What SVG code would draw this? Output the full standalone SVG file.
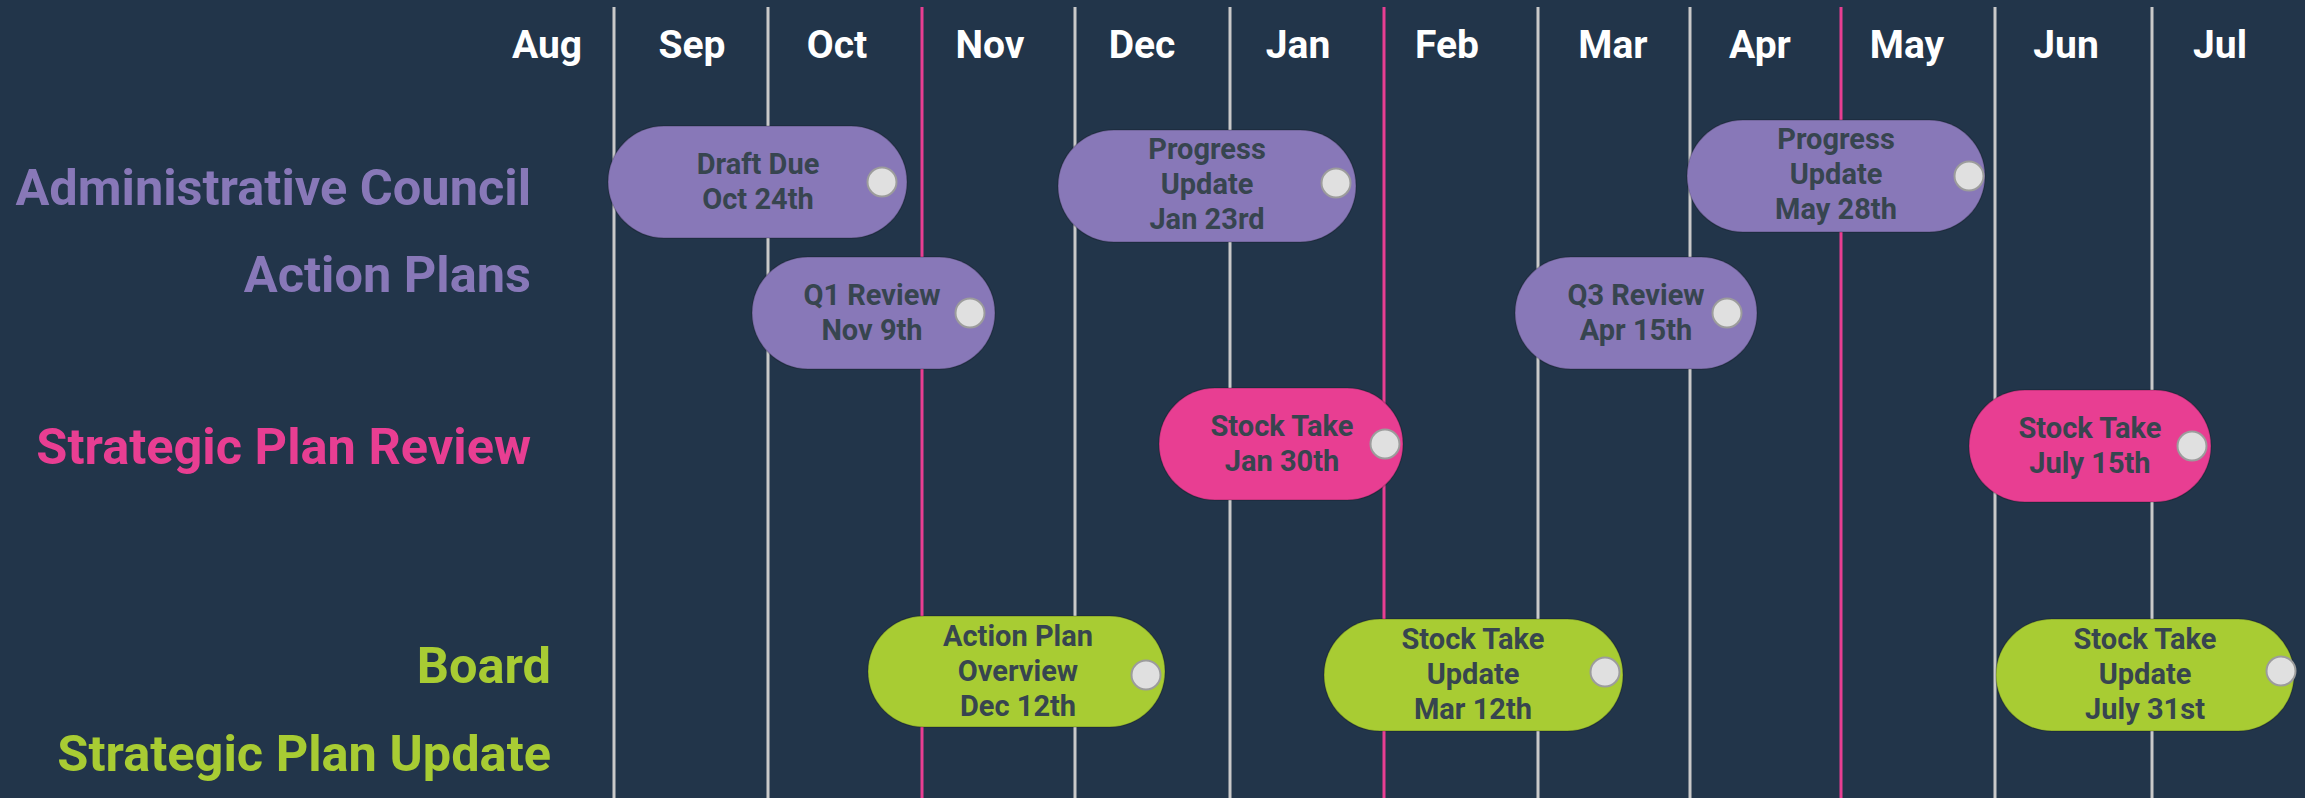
<svg xmlns="http://www.w3.org/2000/svg" width="2305" height="798" viewBox="0 0 2305 798">
  <style>
    .bg { fill: #22354a; }
    .grid { stroke: #c9c9c9; stroke-width: 3; }
    .grid.accent { stroke: #e83e92; }
    .month { font-family: Roboto, "Liberation Sans", sans-serif; font-weight: 700; font-size: 39px; fill: #ffffff; text-anchor: middle; }
    .row { font-family: Roboto, "Liberation Sans", sans-serif; font-weight: 700; font-size: 50.5px; text-anchor: end; }
    .row.purple { fill: #8878b8; }
    .row.pink { fill: #e83e92; }
    .row.green { fill: #a8cc33; }
    .pill { stroke: rgba(0,0,0,0.18); stroke-width: 1.5; }
    .pill.purple { fill: #8878b8; }
    .pill.pink { fill: #e83e92; }
    .pill.green { fill: #a8cc33; }
    .knob { fill: #e0e0e0; stroke: #9c9c9c; stroke-width: 2; }
    .label { font-family: Roboto, "Liberation Sans", sans-serif; font-weight: 700; font-size: 29px; fill: #37454f; text-anchor: middle; }
  </style>

  <rect class="bg" x="0" y="0" width="2305" height="798"/>

  <!-- month dividers -->
  <g id="gridlines">
    <line class="grid" x1="614" y1="7" x2="614" y2="798"/>
    <line class="grid" x1="768" y1="7" x2="768" y2="798"/>
    <line class="grid accent" x1="922" y1="7" x2="922" y2="798"/>
    <line class="grid" x1="1075" y1="7" x2="1075" y2="798"/>
    <line class="grid" x1="1230" y1="7" x2="1230" y2="798"/>
    <line class="grid accent" x1="1384" y1="7" x2="1384" y2="798"/>
    <line class="grid" x1="1538" y1="7" x2="1538" y2="798"/>
    <line class="grid" x1="1690" y1="7" x2="1690" y2="798"/>
    <line class="grid accent" x1="1841" y1="7" x2="1841" y2="798"/>
    <line class="grid" x1="1995" y1="7" x2="1995" y2="798"/>
    <line class="grid" x1="2152" y1="7" x2="2152" y2="798"/>
  </g>

  <!-- month headings -->
  <g id="months">
    <text class="month" x="547" y="58">Aug</text>
    <text class="month" x="692" y="58">Sep</text>
    <text class="month" x="837" y="58">Oct</text>
    <text class="month" x="990" y="58">Nov</text>
    <text class="month" x="1142" y="58">Dec</text>
    <text class="month" x="1298" y="58">Jan</text>
    <text class="month" x="1447" y="58">Feb</text>
    <text class="month" x="1613" y="58">Mar</text>
    <text class="month" x="1760" y="58">Apr</text>
    <text class="month" x="1907" y="58">May</text>
    <text class="month" x="2066" y="58">Jun</text>
    <text class="month" x="2220" y="58">Jul</text>
  </g>

  <!-- swimlane titles -->
  <g id="lanes">
    <text class="row purple" x="531" y="205">Administrative Council</text>
    <text class="row purple" x="531" y="292">Action Plans</text>
    <text class="row pink" x="531" y="464">Strategic Plan Review</text>
    <text class="row green" x="551" y="683">Board</text>
    <text class="row green" x="551" y="771">Strategic Plan Update</text>
  </g>

  <!-- milestones -->
  <g id="draft-due">
    <rect class="pill purple" x="608" y="126" width="299" height="112" rx="56"/>
    <circle class="knob" cx="882" cy="182" r="14.5"/>
    <text class="label" x="758" y="174">Draft Due</text>
    <text class="label" x="758" y="209">Oct 24th</text>
  </g>

  <g id="progress-jan">
    <rect class="pill purple" x="1058" y="130" width="298" height="112" rx="56"/>
    <circle class="knob" cx="1336" cy="183" r="14.5"/>
    <text class="label" x="1207" y="159">Progress</text>
    <text class="label" x="1207" y="194">Update</text>
    <text class="label" x="1207" y="229">Jan 23rd</text>
  </g>

  <g id="progress-may">
    <rect class="pill purple" x="1687" y="120" width="298" height="112" rx="56"/>
    <circle class="knob" cx="1969" cy="176" r="14.5"/>
    <text class="label" x="1836" y="149">Progress</text>
    <text class="label" x="1836" y="184">Update</text>
    <text class="label" x="1836" y="219">May 28th</text>
  </g>

  <g id="q1-review">
    <rect class="pill purple" x="752" y="257" width="243" height="112" rx="56"/>
    <circle class="knob" cx="970" cy="313" r="14.5"/>
    <text class="label" x="872" y="305">Q1 Review</text>
    <text class="label" x="872" y="340">Nov 9th</text>
  </g>

  <g id="q3-review">
    <rect class="pill purple" x="1515" y="257" width="242" height="112" rx="56"/>
    <circle class="knob" cx="1727" cy="313" r="14.5"/>
    <text class="label" x="1636" y="305">Q3 Review</text>
    <text class="label" x="1636" y="340">Apr 15th</text>
  </g>

  <g id="stock-take-jan">
    <rect class="pill pink" x="1159" y="388" width="244" height="112" rx="56"/>
    <circle class="knob" cx="1385" cy="444" r="14.5"/>
    <text class="label" x="1282" y="436">Stock Take</text>
    <text class="label" x="1282" y="471">Jan 30th</text>
  </g>

  <g id="stock-take-july">
    <rect class="pill pink" x="1969" y="390" width="242" height="112" rx="56"/>
    <circle class="knob" cx="2192" cy="446" r="14.5"/>
    <text class="label" x="2090" y="438">Stock Take</text>
    <text class="label" x="2090" y="473">July 15th</text>
  </g>

  <g id="action-plan-overview">
    <rect class="pill green" x="868" y="616" width="297" height="111" rx="55.5"/>
    <circle class="knob" cx="1146" cy="675" r="14.5"/>
    <text class="label" x="1018" y="646">Action Plan</text>
    <text class="label" x="1018" y="681">Overview</text>
    <text class="label" x="1018" y="716">Dec 12th</text>
  </g>

  <g id="stock-take-update-mar">
    <rect class="pill green" x="1324" y="619" width="299" height="112" rx="56"/>
    <circle class="knob" cx="1605" cy="672" r="14.5"/>
    <text class="label" x="1473" y="649">Stock Take</text>
    <text class="label" x="1473" y="684">Update</text>
    <text class="label" x="1473" y="719">Mar 12th</text>
  </g>

  <g id="stock-take-update-july">
    <rect class="pill green" x="1996" y="619" width="298" height="112" rx="56"/>
    <circle class="knob" cx="2281" cy="671" r="14.5"/>
    <text class="label" x="2145" y="649">Stock Take</text>
    <text class="label" x="2145" y="684">Update</text>
    <text class="label" x="2145" y="719">July 31st</text>
  </g>
</svg>
